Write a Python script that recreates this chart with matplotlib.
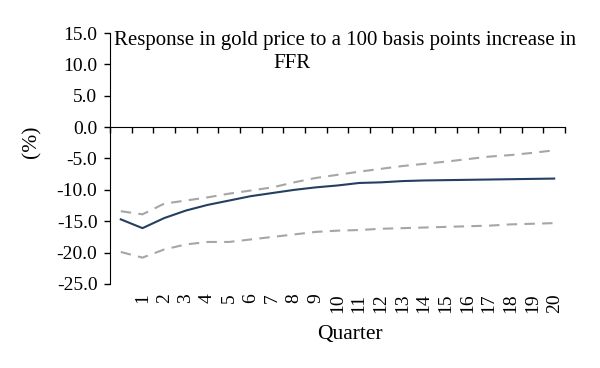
import numpy as np
import matplotlib.pyplot as plt
import matplotlib.transforms as mtransforms

plt.rcParams['font.family'] = ['Liberation Serif', 'DejaVu Serif']

# Data; first category has no label
quarters = [""] + [str(q) for q in range(1, 21)]
response = [-14.7, -16.1, -14.5, -13.3, -12.4, -11.7, -11.0, -10.5, -10.0, -9.6, -9.3,
            -8.9, -8.8, -8.6, -8.5, -8.45, -8.4, -8.35, -8.3, -8.25, -8.2]
upper = [-13.4, -13.9, -12.2, -11.7, -11.2, -10.6, -10.1, -9.6, -8.8, -8.1, -7.6,
         -7.1, -6.65, -6.2, -5.85, -5.5, -5.1, -4.7, -4.45, -4.1, -3.7]
lower = [-19.9, -20.8, -19.5, -18.7, -18.3, -18.3, -17.9, -17.5, -17.1, -16.7, -16.5,
         -16.4, -16.2, -16.1, -16.0, -15.9, -15.8, -15.7, -15.5, -15.4, -15.3]
yticks = [15, 10, 5, 0, -5, -10, -15, -20, -25]
title_line1 = "Response in gold price to a 100 basis points increase in"
title_line2 = "FFR"

x = np.arange(len(quarters))

fig = plt.figure(figsize=(6, 3.68), dpi=100)
ax = fig.add_axes([0.1833, 0.2283, 0.7584, 0.682])

ax.plot(x, upper, color="#a6a6a6", lw=1.5, dashes=(5, 3.5))
ax.plot(x, lower, color="#a6a6a6", lw=1.5, dashes=(5, 3.5))
ax.plot(x, response, color="#243f60", lw=1.5)

ax.set_xlim(-0.5, len(quarters) - 0.5)
ax.set_ylim(-25, 15)
ax.set_yticks(yticks)
ax.set_yticklabels(["%.1f" % v for v in yticks], fontsize=14)
ax.tick_params(axis="y", direction="out", length=4, width=1, pad=5)

# x axis line sits at zero, ticks between categories
for s in ["top", "right"]:
    ax.spines[s].set_visible(False)
ax.spines["bottom"].set_position(("data", 0))
ax.set_xticks(np.arange(len(quarters) + 1) - 0.5)
ax.set_xticklabels([])
ax.tick_params(axis="x", direction="out", length=4, width=1)

# category labels at the bottom of the plot
trans = mtransforms.blended_transform_factory(ax.transData, ax.transAxes)
for xi, lab in zip(x, quarters):
    ax.text(xi, -0.038, lab, rotation=90, ha="center", va="top",
            fontsize=14, transform=trans)

fig.text(350 / 600, 1 - 334 / 368, "Quarter", ha="center", va="center", fontsize=15.5)
fig.text(32 / 600, 1 - 142 / 368, "(%)", ha="center", va="center", rotation=90, fontsize=15.5)

fig.text(114 / 600, 1 - 45 / 368, title_line1, ha="left", va="baseline", fontsize=15)
fig.text(273 / 600, 1 - 68 / 368, title_line2, ha="left", va="baseline", fontsize=15)

fig.savefig("out.png", dpi=100)
